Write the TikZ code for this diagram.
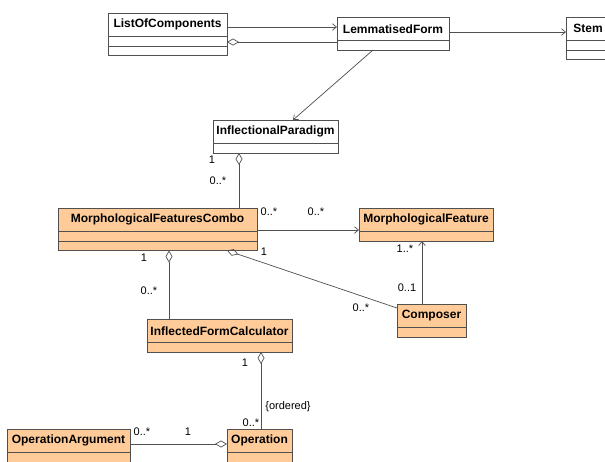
\documentclass[tikz,border=0pt]{standalone}
\usepackage{fontspec}
\setmainfont{Liberation Sans}
\usetikzlibrary{arrows.meta,calc}
\definecolor{ln}{RGB}{80,80,80}
\definecolor{peach}{RGB}{255,204,153}
\tikzset{
  classbox/.style={draw=ln, line width=0.8pt, inner sep=0pt, outer sep=0pt},
  classtitle/.style={font=\bfseries\fontsize{12}{14}\selectfont, inner sep=0pt, text=black},
  classline/.style={draw=ln, line width=0.8pt},
  conn/.style={draw=ln, line width=0.7pt},
  assoc/.style={conn, -{Straight Barb[length=4pt,width=6.5pt]}},
  aggr/.style={conn, {Diamond[open,length=12pt,width=7pt]}-},
  lbl/.style={font=\fontsize{11}{13}\selectfont, inner sep=0pt, text=black}
}
% name, x, y, width, number of compartments, fill, title
\newcommand\umlclass[7]{%
  \node[classbox, fill=#6, minimum width=#4, minimum height={23.5+#5*9.5}, anchor=north west] (#1) at (#2,#3) {};
  \node[classtitle] (#1-t) at ($(#1.north)+(0,11.75)$) {#7};
  \draw[classline] ($(#1.north west)+(0,23.5)$) -- ($(#1.north east)+(0,23.5)$);
  \ifnum#5>1
    \draw[classline] ($(#1.north west)+(0,33)$) -- ($(#1.north east)+(0,33)$);
  \fi
}
\begin{document}
\begin{tikzpicture}[x=1pt,y=-1pt]
\clip (0,0) rectangle (605,461);
\fill[white] (0,0) rectangle (605,461);
% classes
\umlclass{lof}{108}{13}{119}{2}{white}{ListOfComponents}
\umlclass{lf}{337}{17}{112}{1}{white}{LemmatisedForm}
\umlclass{stem}{566}{17}{44}{2}{white}{Stem}
\umlclass{ip}{213}{120}{125}{1}{white}{InflectionalParadigm}
\umlclass{mfc}{58}{208}{199}{2}{peach}{MorphologicalFeaturesCombo}
\umlclass{mf}{359}{208}{134}{1}{peach}{MorphologicalFeature}
\umlclass{comp}{397}{304}{69}{1}{peach}{Composer}
\umlclass{ifc}{147}{319}{145}{1}{peach}{InflectedFormCalculator}
\umlclass{op}{227}{429}{65}{2}{peach}{Operation}
\umlclass{oa}{7}{429}{123}{2}{peach}{OperationArgument}
% connectors
\draw[assoc] (lof.east |- 0,27) -- (lf.west |- 0,27);
\draw[aggr] (lof.east |- 0,42) -- (lf.west |- 0,42);
\draw[assoc] (lf.east |- 0,32) -- (stem.west |- 0,32);
\draw[assoc] ($(lf.south west)+(36,0)$) -- ($(ip.north west)+(80,0)$);
\draw[aggr] (ip.south -| 239,0) -- (mfc.north -| 239,0);
\draw[assoc] (mfc.east |- 0,230) -- (mf.west |- 0,230);
\draw[aggr] (mfc.south -| 169,0) -- (ifc.north -| 169,0);
\draw[aggr] (mfc.south -| 227,0) -- (comp.west |- 0,308);
\draw[assoc] (comp.north -| 422,0) -- (mf.south -| 422,0);
\draw[aggr] (ifc.south -| 261,0) -- (op.north -| 261,0);
\draw[aggr] (op.west |- 0,444) -- (oa.east |- 0,444);
% multiplicities
\node[lbl] (m1) at (212,160) {1};
\node[lbl] (m2) at (218,181) {0..*};
\node[lbl] (m3) at (269,212) {0..*};
\node[lbl] (m4) at (316,212) {0..*};
\node[lbl] (m5) at (144,258) {1};
\node[lbl] (m6) at (149,291) {0..*};
\node[lbl] (m7) at (264,252) {1};
\node[lbl] (m8) at (361,308) {0..*};
\node[lbl] (m9) at (405,249) {1..*};
\node[lbl] (m10) at (407,288) {0..1};
\node[lbl] (m11) at (245,363) {1};
\node[lbl] (m12) at (288,407) {\{ordered\}};
\node[lbl] (m13) at (251,423) {0..*};
\node[lbl] (m14) at (142,432) {0..*};
\node[lbl] (m15) at (188,432) {1};
\end{tikzpicture}
\end{document}
